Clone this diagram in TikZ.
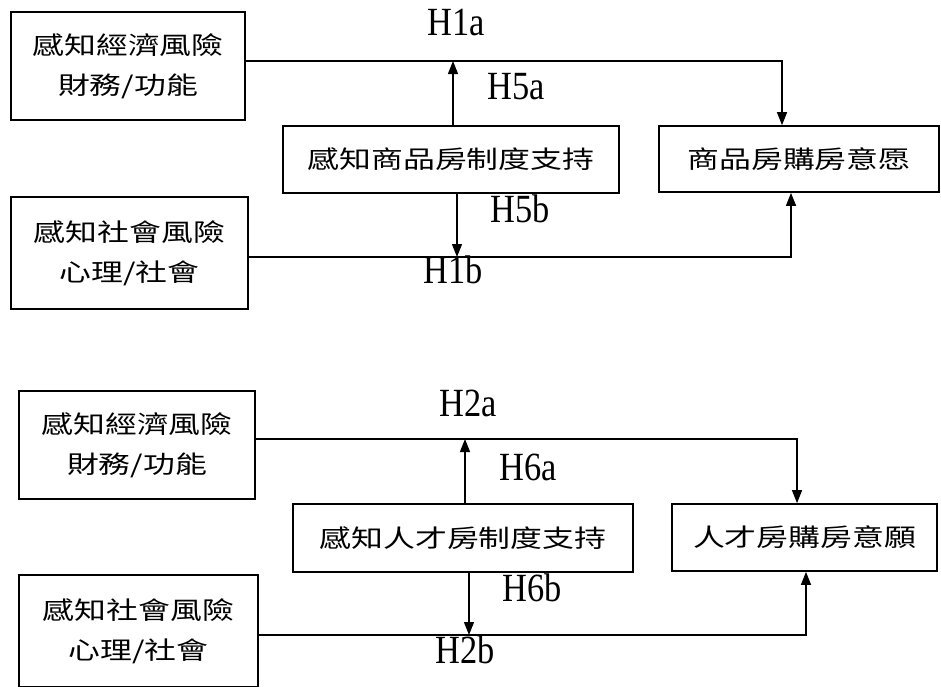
\documentclass[tikz,border=0pt]{standalone}
\usepackage{fontspec}
\newfontfamily\cjk[FakeStretch=1.3]{Noto Sans CJK TC}
\newfontfamily\hlab[FakeStretch=0.86]{Liberation Serif}
\usetikzlibrary{arrows.meta}

\begin{document}
\begin{tikzpicture}[x=1pt,y=-1pt,
    box/.style={draw,line width=1.7pt,inner sep=0pt,align=center,font=\cjk\fontsize{24.5}{40}\selectfont},
    lbl/.style={inner sep=0pt,font=\hlab\fontsize{40}{40}\selectfont},
    link/.style={line width=1.3pt},
    arr/.style={line width=1.3pt,-{Triangle[length=13pt,width=10pt]}}]
    \clip (0,0) rectangle (941,686);
    \node[box,minimum width=234,minimum height=108] (eco1) at (128,66) {感知經濟風險\\財務/功能};
    \node[box,minimum width=237,minimum height=112] (soc1) at (129.5,253) {感知社會風險\\心理/社會};
    \node[box,minimum width=336,minimum height=67] (sup1) at (451,159.5) {感知商品房制度支持};
    \node[box,minimum width=280,minimum height=66] (will1) at (799,159) {商品房購房意愿};
    \coordinate (j1a) at (453,61);
    \coordinate (j1b) at (457,257);
    \draw[arr] (eco1.east |- j1a) -| ([xshift=-17pt]will1.north);
    \draw[arr] (sup1.north -| j1a) -- (j1a);
    \draw[arr] (soc1.east |- j1b) -| ([xshift=-8pt]will1.south);
    \draw[arr] (sup1.south -| j1b) -- (j1b);
    \node[lbl] (h1a) at (456,22) {H1a};
    \node[lbl] (h5a) at (516,87) {H5a};
    \node[lbl] (h5b) at (520,209) {H5b};
    \node[lbl] (h1b) at (453,270) {H1b};

    \node[box,minimum width=236,minimum height=108] (eco2) at (137,445) {感知經濟風險\\財務/功能};
    \node[box,minimum width=239,minimum height=112] (soc2) at (138.5,631) {感知社會風險\\心理/社會};
    \node[box,minimum width=340,minimum height=68] (sup2) at (463,538) {感知人才房制度支持};
    \node[box,minimum width=265,minimum height=67] (will2) at (804.5,537.5) {人才房購房意願};
    \coordinate (j2a) at (465,439);
    \coordinate (j2b) at (469,635);
    \draw[arr] (eco2.east |- j2a) -| ([xshift=-7.5pt]will2.north);
    \draw[arr] (sup2.north -| j2a) -- (j2a);
    \draw[arr] (soc2.east |- j2b) -| ([xshift=1.5pt]will2.south);
    \draw[arr] (sup2.south -| j2b) -- (j2b);
    \node[lbl] (h2a) at (468,403) {H2a};
    \node[lbl] (h6a) at (528,467) {H6a};
    \node[lbl] (h6b) at (532,588) {H6b};
    \node[lbl] (h2b) at (465,650) {H2b};
\end{tikzpicture}
\end{document}
